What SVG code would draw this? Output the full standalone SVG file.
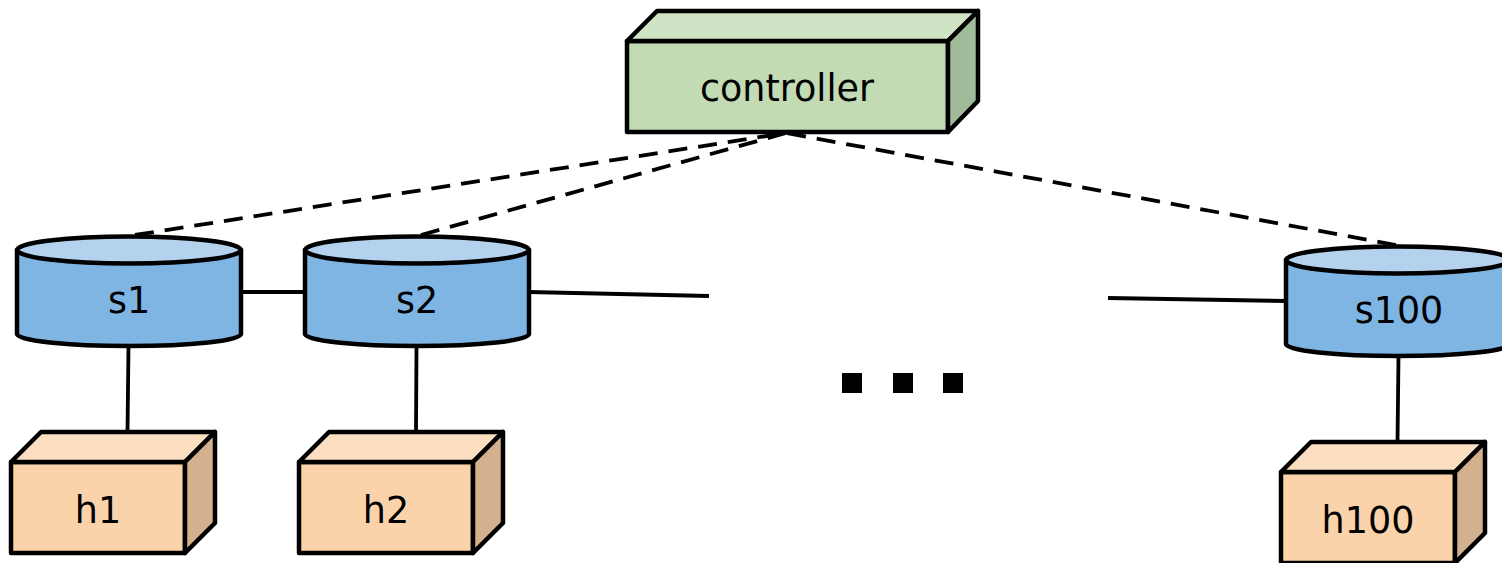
<svg xmlns="http://www.w3.org/2000/svg" width="1502" height="563" viewBox="0 0 1502 563">
<style>
.o{stroke:#000;stroke-width:4.500;stroke-linejoin:round}
text{font-family:"DejaVu Sans","Liberation Sans",sans-serif;font-size:36.500px;fill:#000;text-anchor:middle}
.l{stroke:#000;stroke-width:3.800;fill:none}
.d{stroke:#000;stroke-width:3.800;fill:none;stroke-dasharray:19 11}
.cf{fill:#c2dbb4}.ct{fill:#d0e3c5}.cs{fill:#a0bb9a}
.hf{fill:#fbd3aa}.ht{fill:#fcdfc0}.hs{fill:#d3b08e}
.sb{fill:#7fb5e3}.st{fill:#b4d2ed}
</style>
<rect width="1502" height="563" fill="#fff"/>
<defs>
<g id="cyl">
<path class="o sb" d="M17 250V334A112 12 0 0 0 241 334V250Z"/>
<ellipse class="o st" cx="129" cy="250" rx="112" ry="13.500"/>
</g>
<g id="box">
<path class="o hf" d="M11 462H185V553H11Z"/>
<path class="o ht" d="M11 462L41 432H215L185 462Z"/>
<path class="o hs" d="M185 462L215 432V523L185 553Z"/>
</g>
</defs>
<g id="connectors">
<path class="d" d="M135 235L786 133"/>
<path class="d" d="M421 235L786 133"/>
<path class="d" d="M1396 245L786 133"/>
<path class="l" d="M241 292H305"/>
<path class="l" d="M529 292L709 296"/>
<path class="l" d="M1108 298L1286 301"/>
<path class="l" d="M128.500 346L127.500 432"/>
<path class="l" d="M416.500 346L416 432"/>
<path class="l" d="M1398.500 356L1397.500 442"/>
</g>
<g id="controller">
<path class="o cf" d="M627 41H948V132H627Z"/>
<path class="o ct" d="M627 41L657 11H978L948 41Z"/>
<path class="o cs" d="M948 41L978 11V101L948 132Z"/>
<text x="787" y="100.500">controller</text>
</g>
<g id="s1"><use href="#cyl"/><text x="129" y="313">s1</text></g>
<g id="s2"><use href="#cyl" x="288"/><text x="417" y="313">s2</text></g>
<g id="s100"><use href="#cyl" x="1269" y="10"/><text x="1399" y="323">s100</text></g>
<g id="h1"><use href="#box"/><text x="98" y="522.500">h1</text></g>
<g id="h2"><use href="#box" x="288"/><text x="386" y="522.500">h2</text></g>
<g id="h100"><use href="#box" x="1270" y="10"/><text x="1368" y="532.500">h100</text></g>
<g id="ellipsis">
<rect x="842" y="373" width="20" height="20"/>
<rect x="893" y="373" width="20" height="20"/>
<rect x="943" y="373" width="20" height="20"/>
</g>
</svg>
